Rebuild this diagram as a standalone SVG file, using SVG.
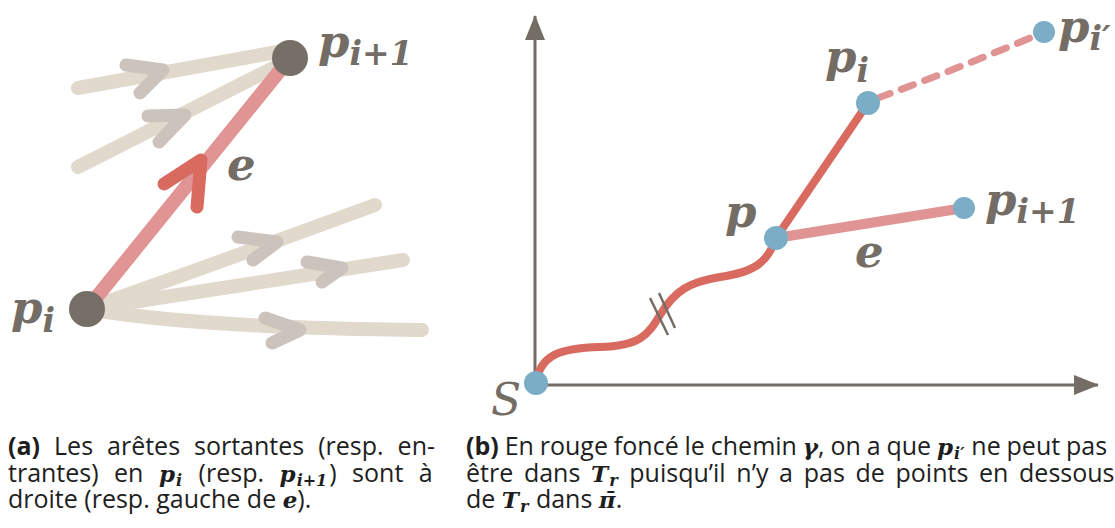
<svg xmlns="http://www.w3.org/2000/svg" width="1115" height="528" viewBox="0 0 1115 528">
<style>
.bg{fill:#fff}
.beige{fill:none;stroke:#e2d9cd;stroke-width:14;stroke-linecap:round}
.chev{fill:none;stroke:#cbc3bc;stroke-width:13;stroke-linecap:round;stroke-linejoin:round}
.redl{fill:none;stroke:#e09494;stroke-linecap:round}
.redd{fill:none;stroke:#d86a60;stroke-linecap:round;stroke-linejoin:round}
.axis{fill:none;stroke:#736d66;stroke-width:3}
.slash{stroke:#736d66;stroke-width:2.5}
.dnode{fill:#766f68}
.bnode{fill:#7badc6}
.lab{font-family:"DejaVu Serif",serif;font-weight:bold;font-style:italic;fill:#736d66;font-size:45px}
.sub{font-size:33px}
.cap{font-family:"Open Sans","Noto Sans",sans-serif;font-size:25px;fill:#1e1e1e}
.b{font-weight:bold}
.m{font-family:"DejaVu Serif",serif;font-weight:bold;font-style:italic;font-size:23px}
.ms{font-size:16px}
</style>
<defs>
<marker id="ah" markerUnits="userSpaceOnUse" viewBox="0 0 25 20" markerWidth="25" markerHeight="20" refX="24" refY="10" orient="auto">
<path d="M0,0 L25,10 L0,20 Z" fill="#736d66"/>
</marker>
</defs>
<rect class="bg" x="0" y="0" width="1115" height="528"/>

<g id="connectors">
<path class="beige" d="M78,88 L288,50"/>
<path class="beige" d="M78,167 L285,62"/>
<path class="beige" d="M87,309 Q220,262 375,205"/>
<path class="beige" d="M87,309 L403,260"/>
<path class="beige" d="M87,309 Q200,328 422,330"/>
<path class="chev" d="M126,65 L163,70 L140,93"/>
<path class="chev" d="M148,116 L185,115 L159,142"/>
<path class="chev" d="M238,237 L277,242 L253,260"/>
<path class="chev" d="M307,262 L342,268 L322,282"/>
<path class="chev" d="M265,318 L300,330 L272,343"/>
<path class="redl" stroke-width="14" d="M87,309 L290,58"/>
<path class="redd" stroke-width="13" d="M164,184 L201,160 L197,207"/>
<path class="axis" d="M535,385 L535,16" marker-end="url(#ah)"/>
<path class="axis" d="M535,385 L1098,385" marker-end="url(#ah)"/>
<path class="redd" stroke-width="8" d="M536,383 C540,355 560,348 600,347 C640,346 648,335 660,315 C675,290 690,282 720,277 C755,272 768,262 776,238 L868,103"/>
<path class="redl" stroke-width="10" d="M776,238 L964,208"/>
<path class="redl" stroke-width="7" stroke-dasharray="13 12" d="M878,98 Q960,68 1044,32"/>
<line class="slash" x1="650" y1="298" x2="668" y2="335"/>
<line class="slash" x1="659" y1="293" x2="675" y2="328"/>
</g>

<g id="node-pi1-left"><circle class="dnode" cx="290" cy="58" r="18"/><text class="lab" x="318" y="57">p<tspan class="sub" dy="8">i+1</tspan></text></g>
<g id="node-pi-left"><circle class="dnode" cx="87" cy="309" r="18"/><text class="lab" x="11" y="323">p<tspan class="sub" dy="9">i</tspan></text></g>
<g id="label-e-left"><text class="lab" x="227" y="180">e</text></g>

<g id="node-S"><circle class="bnode" cx="536" cy="383" r="12"/><text x="491" y="415" font-family="DejaVu Serif,serif" font-style="italic" font-size="44" fill="#736d66">S</text></g>
<g id="node-p"><circle class="bnode" cx="776" cy="238" r="12"/><text class="lab" x="725" y="227">p</text></g>
<g id="node-pi"><circle class="bnode" cx="868" cy="103" r="12"/><text class="lab" x="825" y="72">p<tspan class="sub" dy="10">i</tspan></text></g>
<g id="node-pi1"><circle class="bnode" cx="964" cy="208" r="11"/><text class="lab" x="985" y="215">p<tspan class="sub" dy="8">i+1</tspan></text></g>
<g id="node-pip"><circle class="bnode" cx="1044" cy="32" r="11"/><text class="lab" x="1058" y="42">p<tspan class="sub" dy="8">i′</tspan></text></g>
<g id="label-e-right"><text class="lab" x="855" y="267">e</text></g>

<g id="caption-a">
<text class="cap" x="8" y="455" word-spacing="7.5"><tspan class="b">(a)</tspan> Les arêtes sortantes (resp. en-</text>
<text class="cap" x="8" y="482" word-spacing="9">trantes) en <tspan class="m">p</tspan><tspan class="m ms" dx="1" dy="4">i</tspan><tspan dx="1" dy="-4"> (resp. </tspan><tspan class="m">p</tspan><tspan class="m ms" dx="1" dy="4">i+1</tspan><tspan dx="2" dy="-4">) sont à</tspan></text>
<text class="cap" x="8" y="508">droite (resp. gauche de <tspan class="m">e</tspan>).</text>
</g>
<g id="caption-b">
<text class="cap" x="466" y="455" word-spacing="-0.6"><tspan class="b">(b)</tspan> En rouge foncé le chemin <tspan class="m" font-weight="normal">γ</tspan>, on a que <tspan class="m">p</tspan><tspan class="m ms" dx="1" dy="4">i′</tspan><tspan dx="1" dy="-4"> ne peut pas</tspan></text>
<text class="cap" x="466" y="482" word-spacing="4.2">être dans <tspan class="m">T</tspan><tspan class="m ms" dx="1" dy="4">r</tspan><tspan dx="1" dy="-4"> puisqu’il n’y a pas de points en dessous</tspan></text>
<text class="cap" x="466" y="508">de <tspan class="m">T</tspan><tspan class="m ms" dx="1" dy="4">r</tspan><tspan dx="1" dy="-4"> dans </tspan><tspan class="m">π̄</tspan>.</text>
</g>
</svg>
